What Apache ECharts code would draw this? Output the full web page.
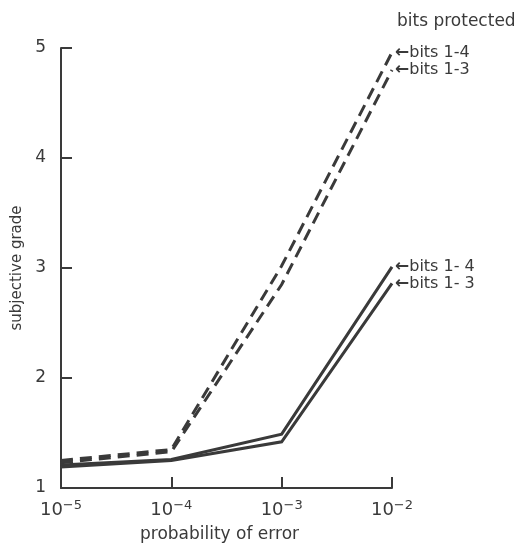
<!DOCTYPE html>
<html>
<head>
<meta charset="utf-8">
<script src="https://cdn.jsdelivr.net/npm/echarts@6/dist/echarts.min.js"></script>
<style>
html,body{margin:0;padding:0;background:#fff;}
#chart{width:529px;height:543px;}
</style>
</head>
<body>
<div id="chart"></div>
<script>
// probability of error exponents (10^x)
const exponents = [-5, -4, -3, -2];
const yTicks = [1, 2, 3, 4, 5];
const dashed14 = [1.25, 1.35, 3.02, 4.96];
const dashed13 = [1.23, 1.33, 2.85, 4.80];
const solid14 = [1.21, 1.26, 1.49, 3.01];
const solid13 = [1.19, 1.25, 1.42, 2.86];
const seriesNames = ['bits 1-4', 'bits 1-3', 'bits 1- 4', 'bits 1- 3'];

const ink = '#3a3a3a';
const font = 'DejaVu Sans';

function pairs(vals) { return exponents.map((e, i) => [e, vals[i]]); }

function mkSeries(name, vals, dashed) {
  return {
    name: name,
    type: 'line',
    data: pairs(vals),
    symbol: 'none',
    lineStyle: { color: ink, width: 3, type: dashed ? [12, 7] : 'solid', cap: 'butt', join: 'miter' },
    endLabel: {
      show: true,
      formatter: '{a|←}' + name,
      color: ink,
      fontFamily: font,
      fontSize: 16,
      distance: 3,
      rich: { a: { fontFamily: 'DejaVu Sans', fontSize: 17, fontWeight: 'bold', color: ink } }
    },
    silent: true,
    z: 3
  };
}

const chart = echarts.init(document.getElementById('chart'));
chart.setOption({
  animation: false,
  backgroundColor: '#fff',
  title: {
    text: 'bits protected',
    left: 392, top: 8,
    textStyle: { fontFamily: font, fontSize: 17, fontWeight: 'normal', color: ink }
  },
  grid: { left: 61, right: 137, top: 48, bottom: 55, outerBoundsMode: 'none', containLabel: false },
  xAxis: {
    type: 'value',
    min: -5, max: -2, interval: 1,
    name: 'probability of error',
    nameLocation: 'middle',
    nameGap: 38,
    nameTextStyle: { fontFamily: font, fontSize: 17, color: ink, padding: [0, 14, 0, 0] },
    axisLine: { lineStyle: { color: ink, width: 2 } },
    axisTick: { inside: true, length: 11, lineStyle: { color: ink, width: 2 } },
    splitLine: { show: false },
    axisLabel: {
      margin: 11,
      formatter: v => '10{s|−' + Math.abs(v) + '}',
      color: ink, fontFamily: font, fontSize: 18,
      rich: { s: { fontFamily: font, fontSize: 13, color: ink, verticalAlign: 'top', padding: [0, 0, 10, 0] } }
    }
  },
  yAxis: {
    type: 'value',
    min: 1, max: 5, interval: 1,
    name: 'subjective grade',
    nameLocation: 'middle',
    nameGap: 30,
    nameTextStyle: { fontFamily: font, fontSize: 15, color: ink },
    axisLine: { lineStyle: { color: ink, width: 2 } },
    axisTick: { inside: true, length: 11, lineStyle: { color: ink, width: 2 } },
    splitLine: { show: false },
    axisLabel: { margin: 15, color: ink, fontFamily: font, fontSize: 17, formatter: v => yTicks.includes(v) ? String(v) : '' }
  },
  series: [
    mkSeries(seriesNames[0], dashed14, true),
    mkSeries(seriesNames[1], dashed13, true),
    mkSeries(seriesNames[2], solid14, false),
    mkSeries(seriesNames[3], solid13, false)
  ]
});
</script>
</body>
</html>
